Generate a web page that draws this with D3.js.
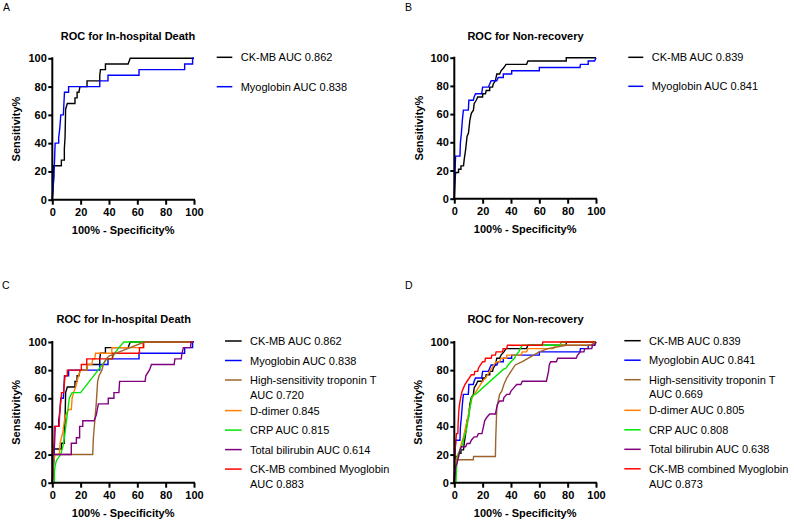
<!DOCTYPE html>
<html><head><meta charset="utf-8">
<script src="https://cdn.jsdelivr.net/npm/d3@7"></script>
<style>
body{margin:0;background:#fff}
svg{display:block}
text{font-family:"Liberation Sans",Arial,Helvetica,sans-serif;fill:#000}
</style>
</head><body>
<svg id="chart" width="794" height="523"></svg>
<script>
// ---------- data (x = 100% - Specificity%, y = Sensitivity%) ----------
const tickValues = [0, 20, 40, 60, 80, 100];

// In-hospital death
const ckmbDeath = [[0,0],[0.5,8],[1,16],[1,24],[6.4,24],[6.4,28],[8.5,28],[8.5,36],[9,44],[9.4,64],[10.6,68],[16,68],[16,72],[17.5,72],[17.5,76],[18.8,76],[19.5,80],[24.5,80],[24.5,84],[33.5,84],[33.5,88],[34,92],[37.5,92],[37.5,96],[53.5,96],[55,100],[100,100]];
const myoDeath = [[0,0],[0.8,12],[1.2,20],[1.6,28],[2,40],[4.5,40],[4.5,44],[5,48],[5.4,52],[6,60],[7.8,60],[8.2,68],[8.6,76],[11.5,76],[11.5,80],[33.5,80],[33.5,84],[39.3,84],[39.3,88],[61.2,88],[61.2,92],[93.4,92],[93.4,96],[99,96],[99,100],[100,100]];
const hstntDeath = [[0,0],[0.5,8],[1,20],[28.5,20],[29,32],[30,44],[31,56],[31.5,64],[32,72],[33,76],[34,78],[35,80],[36,84],[38,88],[40,90],[50,94],[65,100],[100,100]];
const ddimerDeath = [[0,0],[0.5,8],[1,16],[2,20],[5,20],[5.5,28],[6.4,32],[7.5,36],[8.5,44],[9.5,48],[11.3,52],[13.4,52],[14,60],[15,64],[16.5,68],[17.5,72],[18.5,76],[20,80],[24.5,80],[24.5,84],[28,84],[28.5,88],[30,88],[30.5,92],[42,92],[42,96],[64,96],[64,100],[100,100]];
const crpDeath = [[0,0],[1.5,0],[1.5,8],[2,12],[3,16],[6,20],[7,24],[8,28],[9,36],[10,44],[11,52],[12,60],[14,64],[20,64],[38.5,88],[42,88],[44,92],[47,96],[50.5,100],[100,100]];
const tbilDeath = [[0,0],[0,20],[13.4,20],[13.4,28],[17,28],[17,32],[19.3,32],[19.3,40],[21.5,40],[21.5,44],[29.5,44],[31,48],[32.5,56],[39.5,56],[39.5,60],[43.5,60],[43.5,64],[47,64],[47.5,72],[65.5,72],[66,76],[68.5,80],[70,84],[86,84],[86.5,88],[91,88],[91.5,92],[92.5,96],[97.5,96],[98,100],[100,100]];
const comboDeath = [[0,0],[0.5,12],[0.7,20],[1.2,28],[1.6,40],[4.8,40],[5.2,48],[5.8,56],[6.3,60],[6.5,64],[8,64],[8.3,68],[9,76],[10.6,76],[10.6,80],[20.5,80],[20.5,84],[24.3,84],[24.3,88],[42.5,88],[42.5,92],[61.5,92],[61.5,96],[64.5,96],[64.5,100],[100,100]];

// Non-recovery
const ckmbNonrec = [[0,0],[0.3,9],[0.7,16],[1,18.6],[3,18.6],[3,20.9],[4.7,20.9],[4.7,23.3],[6.5,23.3],[7,27.9],[8,34.9],[9,44.2],[10,46.5],[11,55.8],[12,60.5],[13.5,62.8],[14,67.4],[15.5,69.8],[16.5,72.1],[20,72.1],[20,74.4],[22,74.4],[22.5,76.7],[25,76.7],[25,79.1],[27,79.1],[27.5,81.4],[29,83.7],[30,88.4],[32,88.4],[33,90.7],[35,93],[36.5,95.3],[51,95.3],[52,97.7],[79,97.7],[79,100],[100,100]];
const myoNonrec = [[0,0],[0.3,14],[0.9,30.2],[4,30.2],[4.3,39.5],[5,46.5],[5.7,55.8],[6.4,62.8],[9.9,62.8],[10.3,69.8],[13.4,69.8],[14,72.1],[15,74.4],[19.3,74.4],[20,79.1],[24,79.1],[25,81.4],[26,83.7],[30,83.7],[31,86],[34.6,86],[34.6,88.4],[40.5,88.4],[40.5,90.7],[60,90.7],[60,93],[88.7,93],[89,95.3],[94.5,95.3],[94.5,97.7],[99,97.7],[100,100]];
const hstntNonrec = [[0,0],[0.5,9.3],[0.9,16.3],[13.4,16.3],[13.6,18.6],[29,18.6],[29.2,30],[29.6,41.9],[30,53.5],[31,58.1],[32,62.8],[33.5,65.1],[35,69.8],[37,74.4],[40,79.1],[43,83.7],[48,86],[52,88.4],[56,90.7],[60,93],[66,95.3],[79,97.7],[96,97.7],[100,100]];
const ddimerNonrec = [[0,0],[0.5,7],[1,12],[2,18.6],[3,20.9],[4,23.3],[5,27.9],[6.5,32.6],[7.5,37.2],[8.5,41.9],[9.5,46.5],[10.5,51.2],[11.5,55.8],[12.5,60.5],[14,62.8],[15.5,65.1],[17,67.4],[18.5,69.8],[20,72.1],[22,74.4],[23.5,76.7],[25,79.1],[26.5,81.4],[28,83.7],[29.5,86],[32,86],[33,88.4],[37,88.4],[37,90.7],[47,90.7],[48,93],[51,93],[52,95.3],[70,95.3],[72,97.7],[96,97.7],[100,100]];
const crpNonrec = [[0,0],[1.2,0],[1.5,9],[2,16.3],[3,20.9],[4,23.3],[5,25.6],[6,27.9],[7,32.6],[8.5,37.2],[9.3,41.9],[10,46.5],[10.8,51.2],[11.5,55.8],[12.3,60.5],[14,62.8],[15,62.8],[34.6,80.5],[36.5,81.4],[38,83.7],[40,86],[42.5,88.4],[43.5,90.7],[45.5,93],[46.5,95.3],[48,97.7],[74.5,97.7],[75.5,100],[100,100]];
const tbilNonrec = [[0,0],[0.5,7],[1,11.6],[2,14],[3,18.6],[4,23.3],[5,25.6],[8,25.6],[9,27.9],[11,27.9],[12,30.2],[14,32.6],[16,32.6],[17,34.9],[19.5,34.9],[20.5,39.5],[21.5,44.2],[23,46.5],[25,48.8],[29,48.8],[29.5,51.2],[30.5,55.8],[32,58.1],[34.5,58.1],[35,60.5],[37,62.8],[39,62.8],[40,65.1],[42,67.4],[44,69.8],[47,69.8],[48,72.1],[65,72.1],[65.5,74.4],[66.5,79.1],[67,83.7],[68,86],[72,86],[73,88.4],[86,88.4],[87,90.7],[89,93],[91.5,93],[92,95.3],[97,95.3],[97.5,97.7],[99,97.7],[100,100]];
const comboNonrec = [[0,0],[0.3,14],[0.5,23.3],[1,27.9],[1.5,34.9],[2.5,34.9],[2.7,41.9],[3.2,51.2],[3.7,55.8],[4.5,60.5],[5.5,65.1],[6.5,67.4],[7.5,69.8],[9,72.1],[10.5,74.4],[12,76.7],[14,76.7],[14.5,79.1],[16.5,79.1],[17,81.4],[18.5,83.7],[20,86],[21.5,86],[22,88.4],[26,88.4],[26.5,90.7],[29,90.7],[29.5,93],[34,93],[34.5,95.3],[37,95.3],[37.5,97.7],[62,97.7],[62.5,100],[100,100]];

// legend labels
const labelsA = ["CK-MB AUC 0.862", "Myoglobin AUC 0.838"];
const labelsB = ["CK-MB AUC 0.839", "Myoglobin AUC 0.841"];
const labelsC = ["CK-MB AUC 0.862", "Myoglobin AUC 0.838", ["High-sensitivity troponin T", "AUC 0.720"], "D-dimer 0.845", "CRP AUC 0.815", "Total bilirubin AUC 0.614", ["CK-MB combined Myoglobin", "AUC 0.883"]];
const labelsD = ["CK-MB AUC 0.839", "Myoglobin AUC 0.841", ["High-sensitivity troponin T", "AUC 0.669"], "D-dimer AUC 0.805", "CRP AUC 0.808", "Total bilirubin AUC 0.638", ["CK-MB combined Myoglobin", "AUC 0.873"]];

// ---------- styles ----------
const colors = {ckmb:"#000000", myo:"#0000ff", hstnt:"#9c642c", ddimer:"#ff8000", crp:"#00e600", tbil:"#800080", combo:"#ff0000"};
const legendOrder = ["ckmb","myo","hstnt","ddimer","crp","tbil","combo"];
const drawOrder = ["ckmb","myo","ddimer","crp","combo","hstnt","tbil"];

const panels = [
  {letter:"A", lx:3, ly:10.5, title:"ROC for In-hospital Death", tx:128, ty:39.5, px0:52.3, px1:194, py0:199.7, py1:58.3, ylabX:20,
   data:{ckmb:ckmbDeath, myo:myoDeath}, labels:labelsA, keys:["ckmb","myo"], lgX1:216.7, lgX2:232.3, lgTX:240.7, lgY:[57.3, 86.7]},
  {letter:"B", lx:405, ly:10.5, title:"ROC for Non-recovery", tx:525.5, ty:39.5, px0:454.3, px1:596, py0:198.7, py1:57.7, ylabX:422.5,
   data:{ckmb:ckmbNonrec, myo:myoNonrec}, labels:labelsB, keys:["ckmb","myo"], lgX1:628.3, lgX2:643.3, lgTX:651.7, lgY:[57.3, 86.3]},
  {letter:"C", lx:2, ly:289, title:"ROC for In-hospital Death", tx:123.7, ty:323, px0:52.3, px1:194, py0:482.7, py1:342, ylabX:20,
   data:{ckmb:ckmbDeath, myo:myoDeath, hstnt:hstntDeath, ddimer:ddimerDeath, crp:crpDeath, tbil:tbilDeath, combo:comboDeath}, labels:labelsC, keys:legendOrder, lgX1:225, lgX2:241.7, lgTX:250, lgY:null, lgStart:341},
  {letter:"D", lx:405, ly:289, title:"ROC for Non-recovery", tx:525.5, ty:323, px0:454.3, px1:596, py0:482.7, py1:342, ylabX:422,
   data:{ckmb:ckmbNonrec, myo:myoNonrec, hstnt:hstntNonrec, ddimer:ddimerNonrec, crp:crpNonrec, tbil:tbilNonrec, combo:comboNonrec}, labels:labelsD, keys:legendOrder, lgX1:624.3, lgX2:640.7, lgTX:649, lgY:null, lgStart:340.7}
];

const svg = d3.select("#chart");
svg.append("rect").attr("width",794).attr("height",523).attr("fill","#fff");

panels.forEach(p => {
  const g = svg.append("g");
  const x = d3.scaleLinear().domain([0,100]).range([p.px0, p.px1]);
  const y = d3.scaleLinear().domain([0,100]).range([p.py0, p.py1]);

  // panel letter
  g.append("text").attr("x", p.lx).attr("y", p.ly).attr("font-size", 10.5).text(p.letter);
  // title
  g.append("text").attr("x", p.tx).attr("y", p.ty).attr("text-anchor","middle")
    .attr("font-size", 11).attr("font-weight","bold").text(p.title);

  // curves
  const line = d3.line().x(d => x(d[0])).y(d => y(d[1]));
  const clipId = "clip" + p.letter;
  drawOrder.filter(k => p.data[k]).forEach(k => {
    g.append("path").datum(p.data[k]).attr("d", line)
      .attr("fill","none").attr("stroke", colors[k]).attr("stroke-width", 1.4)
      .attr("stroke-linejoin","miter");
  });

  // axes
  const xAxis = g.append("g").attr("transform", `translate(0,${p.py0})`)
    .call(d3.axisBottom(x).tickValues(tickValues).tickSize(5).tickPadding(4).tickSizeOuter(0));
  const yAxis = g.append("g").attr("transform", `translate(${p.px0},0)`)
    .call(d3.axisLeft(y).tickValues(tickValues).tickSize(4).tickPadding(1.5).tickSizeOuter(0));
  [xAxis, yAxis].forEach(a => {
    a.select(".domain").attr("stroke","#000").attr("stroke-width",2);
    a.selectAll(".tick line").attr("stroke","#000").attr("stroke-width",2);
    a.selectAll(".tick text").attr("font-size",11).attr("font-weight","bold")
      .attr("font-family","'Liberation Sans',Arial,sans-serif").attr("fill","#000");
  });
  // extend domain lines to cover corner
  xAxis.select(".domain").attr("d", `M${p.px0-1},0H${p.px1+1}`);
  yAxis.select(".domain").attr("d", `M0,${p.py0+1}V${p.py1-1}`);

  // axis titles
  g.append("text").attr("x", (p.px0+p.px1)/2).attr("y", p.py0 + 34.3).attr("text-anchor","middle")
    .attr("font-size",11).attr("font-weight","bold").text("100% - Specificity%");
  g.append("text").attr("transform", `translate(${p.ylabX},${(p.py0+p.py1)/2}) rotate(-90)`)
    .attr("text-anchor","middle").attr("font-size",11).attr("font-weight","bold").text("Sensitivity%");

  // legend
  let yPos = p.lgStart;
  p.keys.forEach((k, i) => {
    const lab = p.labels[i];
    const lines = Array.isArray(lab) ? lab : [lab];
    let cy;
    if (p.lgY) { cy = p.lgY[i]; }
    else { cy = yPos; yPos += (lines.length > 1 ? 30.6 : 19.5); }
    g.append("line").attr("x1", p.lgX1).attr("x2", p.lgX2).attr("y1", cy).attr("y2", cy)
      .attr("stroke", colors[k]).attr("stroke-width", 1.5);
    lines.forEach((t, j) => {
      g.append("text").attr("x", p.lgTX).attr("y", cy + 4 + j*14.7)
        .attr("font-size", 11).text(t);
    });
  });
});
</script>
</body></html>
